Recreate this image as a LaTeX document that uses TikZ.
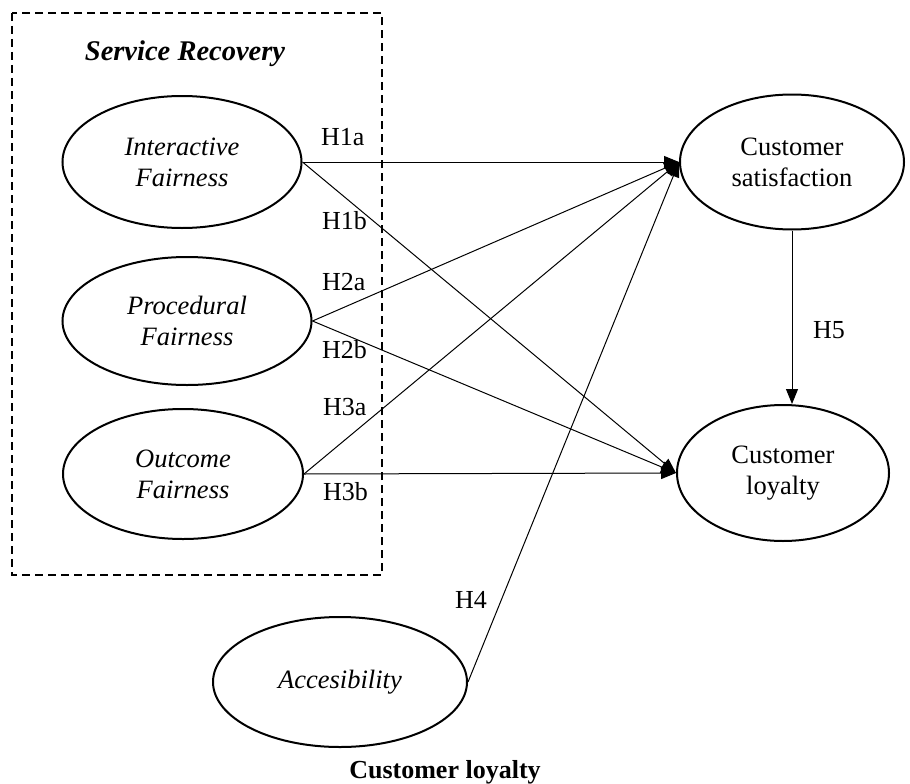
\documentclass[tikz,border=0pt]{standalone}
\usepackage{fontspec}
\setmainfont{Liberation Serif}
\usetikzlibrary{shapes.geometric,arrows.meta}
\begin{document}
\begin{tikzpicture}[x=1pt,y=-1pt,
  ell/.style={draw,ellipse,line width=2pt,inner sep=0pt,align=center,font=\fontsize{26.5}{31}\selectfont},
  iell/.style={ell,font=\fontsize{26.5}{31}\selectfont\itshape},
  arr/.style={-{Triangle[length=15pt,width=12pt]},line width=1pt},
  hyp/.style={anchor=base west,inner sep=0pt,font=\fontsize{26}{31}\selectfont}]
\useasboundingbox (0,0) rectangle (910,784);
\draw[line width=1.3pt, dash pattern=on 8pt off 5pt] (12,13) rectangle (382,575);
\node[font=\bfseries\itshape\fontsize{28.5}{33}\selectfont, anchor=base, inner sep=0pt] (sr) at (185,60) {Service Recovery};
\node[iell,minimum width=239pt,minimum height=132pt] (if) at (182,162) {Interactive\\Fairness};
\node[iell,minimum width=249pt,minimum height=128pt] (pf) at (187,321) {Procedural\\Fairness};
\node[iell,minimum width=240pt,minimum height=130pt] (of) at (183,474) {Outcome\\Fairness};
\node[iell,minimum width=254pt,minimum height=130pt] (ac) at (340,682) {Accesibility};
\node[ell,minimum width=224pt,minimum height=135pt] (cs) at (792,162) {Customer\\satisfaction};
\node[ell,minimum width=212pt,minimum height=136pt] (cl) at (783,473) {Customer\\loyalty};
\draw[arr] (if.east) -- (cs.west);
\draw[arr] (if.east) -- (cl.west);
\draw[arr] (pf.east) -- (cs.west);
\draw[arr] (pf.east) -- (cl.west);
\draw[arr] (of.east) -- (cs.west);
\draw[arr] (of.east) -- (cl.west);
\draw[arr] (ac.east) -- (cs.west);
\draw[arr] (cs.south) -- (cs.south |- cl.north);
\node[hyp] (h1a) at (321,145) {H1a};
\node[hyp] (h1b) at (322,229) {H1b};
\node[hyp] (h2a) at (322,290) {H2a};
\node[hyp] (h2b) at (322,358) {H2b};
\node[hyp] (h3a) at (323,415) {H3a};
\node[hyp] (h3b) at (323,500) {H3b};
\node[hyp] (h4) at (455,608) {H4};
\node[hyp] (h5) at (813,338) {H5};
\node[font=\bfseries\fontsize{26}{31}\selectfont, anchor=base, inner sep=0pt] (title) at (445,778) {Customer loyalty};
\end{tikzpicture}
\end{document}
